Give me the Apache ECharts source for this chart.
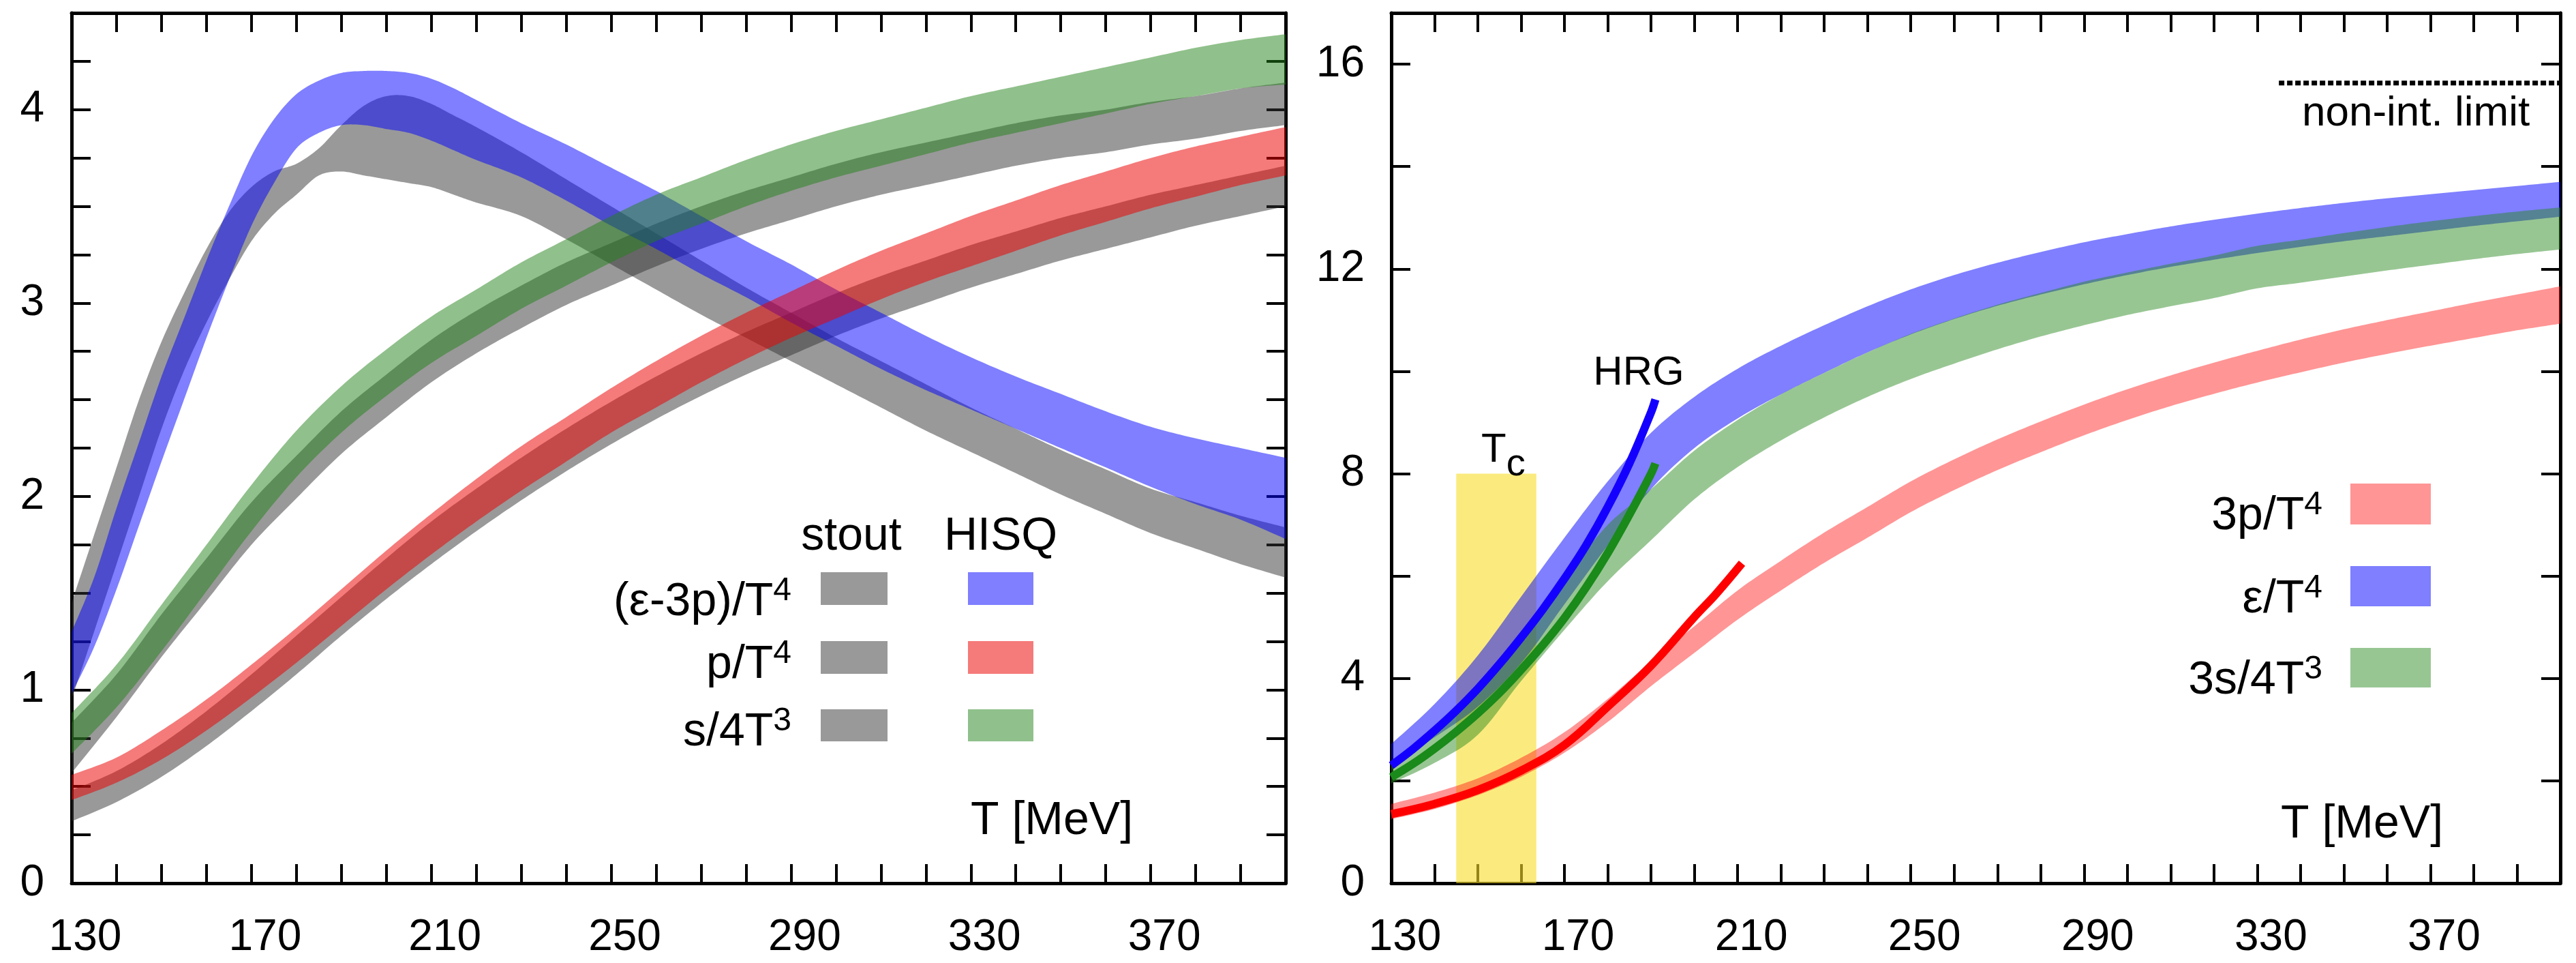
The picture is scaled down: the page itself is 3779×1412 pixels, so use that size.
<!DOCTYPE html>
<html><head><meta charset="utf-8">
<script src="https://cdn.jsdelivr.net/npm/echarts@6/dist/echarts.min.js"></script>
<style>html,body{margin:0;padding:0;background:#fff}#c{width:3779px;height:1412px}</style>
</head><body><div id="c"></div>
<script>
// ---------------- DATA ----------------
// Left panel: trace anomaly (epsilon-3p)/T^4
const T_TRACE = [130,135,140,145,150,155,160,165,170,175,180,185,190,195,200,205,210,215,220,230,240,250,260,270,280,290,300,310,320,330,340,350,360,370,380,390,400];
const HISQ_TRACE_LO = [0.98,1.22,1.52,1.85,2.18,2.50,2.82,3.12,3.40,3.62,3.80,3.88,3.92,3.92,3.90,3.88,3.84,3.79,3.74,3.65,3.53,3.40,3.28,3.15,3.03,2.90,2.78,2.66,2.55,2.45,2.35,2.25,2.15,2.05,1.96,1.88,1.78];
const HISQ_TRACE_HI = [1.30,1.58,1.94,2.28,2.62,2.92,3.22,3.50,3.76,3.95,4.08,4.15,4.19,4.20,4.20,4.19,4.16,4.11,4.05,3.93,3.82,3.70,3.58,3.45,3.32,3.20,3.07,2.95,2.83,2.72,2.62,2.53,2.44,2.36,2.30,2.25,2.20];
const STOUT_TRACE_LO = [0.95,1.30,1.65,2.00,2.35,2.65,2.90,3.12,3.32,3.46,3.56,3.66,3.68,3.66,3.64,3.62,3.60,3.56,3.52,3.45,3.33,3.20,3.07,2.94,2.82,2.70,2.58,2.46,2.34,2.23,2.12,2.01,1.91,1.81,1.73,1.65,1.58];
const STOUT_TRACE_HI = [1.45,1.80,2.15,2.50,2.80,3.05,3.28,3.47,3.60,3.68,3.72,3.80,3.92,4.02,4.07,4.07,4.03,3.97,3.91,3.78,3.64,3.50,3.36,3.22,3.08,2.95,2.82,2.70,2.58,2.46,2.35,2.24,2.14,2.04,1.97,1.90,1.84];
// Left panel: p/T^4 and s/4T^3
const T_10 = [130,140,150,160,170,180,190,200,210,220,230,240,250,260,270,280,290,300,310,320,330,340,350,360,370,380,390,400];
const HISQ_P_LO = [0.43,0.52,0.64,0.79,0.96,1.14,1.33,1.52,1.70,1.87,2.03,2.18,2.33,2.46,2.59,2.71,2.82,2.92,3.02,3.11,3.19,3.27,3.35,3.42,3.49,3.55,3.61,3.66];
const HISQ_P_HI = [0.56,0.65,0.79,0.95,1.13,1.32,1.52,1.72,1.91,2.09,2.26,2.41,2.56,2.70,2.83,2.95,3.06,3.17,3.27,3.36,3.45,3.53,3.61,3.68,3.75,3.81,3.86,3.91];
const STOUT_P_LO = [0.32,0.42,0.55,0.71,0.89,1.08,1.28,1.47,1.65,1.82,1.98,2.13,2.27,2.40,2.52,2.63,2.73,2.83,2.92,3.00,3.08,3.15,3.22,3.28,3.34,3.40,3.45,3.50];
const STOUT_P_HI = [0.48,0.58,0.72,0.89,1.08,1.28,1.48,1.68,1.87,2.04,2.20,2.35,2.49,2.62,2.74,2.85,2.95,3.05,3.14,3.22,3.30,3.37,3.44,3.50,3.56,3.61,3.66,3.71];
const HISQ_S_LO = [0.67,0.91,1.20,1.51,1.82,2.10,2.33,2.52,2.69,2.83,2.97,3.09,3.21,3.32,3.41,3.50,3.58,3.65,3.71,3.77,3.83,3.88,3.93,3.98,4.03,4.07,4.11,4.13];
const HISQ_S_HI = [0.88,1.13,1.44,1.75,2.06,2.34,2.57,2.76,2.93,3.07,3.21,3.33,3.45,3.56,3.65,3.74,3.82,3.89,3.95,4.01,4.07,4.12,4.17,4.22,4.27,4.32,4.36,4.39];
const STOUT_S_LO = [0.57,0.86,1.17,1.46,1.75,1.99,2.22,2.41,2.59,2.74,2.87,2.99,3.09,3.19,3.28,3.36,3.43,3.50,3.56,3.61,3.66,3.71,3.75,3.78,3.82,3.85,3.89,3.92];
const STOUT_S_HI = [0.83,1.08,1.39,1.68,1.97,2.21,2.44,2.63,2.81,2.96,3.09,3.21,3.31,3.41,3.50,3.58,3.65,3.72,3.78,3.83,3.88,3.93,3.97,4.00,4.04,4.07,4.11,4.14];

// Right panel: HISQ 3p/T^4, e/T^4, 3s/4T^3 (on T_10)
const P3_LO = [1.25,1.45,1.72,2.08,2.55,3.15,3.85,4.50,5.15,5.72,6.26,6.75,7.25,7.68,8.07,8.42,8.75,9.05,9.32,9.56,9.78,9.98,10.17,10.34,10.50,10.65,10.80,10.93];
const P3_HI = [1.55,1.77,2.05,2.45,2.95,3.60,4.33,5.02,5.72,6.30,6.85,7.35,7.85,8.28,8.67,9.02,9.35,9.65,9.92,10.17,10.40,10.62,10.82,11.00,11.17,11.34,11.50,11.66];
const E_LO = [2.30,2.85,3.45,4.30,5.45,6.60,7.70,8.50,9.08,9.55,9.97,10.37,10.72,11.02,11.28,11.50,11.70,11.88,12.04,12.18,12.31,12.43,12.54,12.64,12.74,12.84,12.93,13.02];
const E_HI = [2.72,3.50,4.45,5.60,6.75,7.85,8.80,9.50,10.05,10.50,10.90,11.27,11.60,11.88,12.12,12.33,12.52,12.68,12.83,12.96,13.08,13.19,13.29,13.38,13.46,13.54,13.62,13.70];
const S34_LO = [1.95,2.35,2.90,3.95,4.95,5.90,6.70,7.50,8.13,8.65,9.10,9.50,9.85,10.15,10.43,10.68,10.90,11.10,11.27,11.43,11.62,11.73,11.85,11.97,12.08,12.19,12.29,12.38];
const S34_HI = [2.35,2.95,3.80,4.85,5.95,7.00,7.70,8.45,9.05,9.55,9.97,10.37,10.73,11.03,11.30,11.53,11.75,11.93,12.10,12.26,12.45,12.57,12.70,12.82,12.93,13.03,13.12,13.20];

// HRG curves
const T_HRG_E = [130,135,140,145,150,155,160,165,170,175,180,185,190,191];
const HRG_E   = [2.30,2.62,2.98,3.37,3.80,4.28,4.80,5.35,5.95,6.60,7.35,8.20,9.20,9.45];
const T_HRG_S = [130,135,140,145,150,155,160,165,170,175,180,185,190,191];
const HRG_S   = [2.07,2.33,2.63,2.96,3.32,3.72,4.17,4.65,5.18,5.78,6.45,7.20,8.00,8.20];
const T_HRG_P = [130,140,150,160,170,180,190,200,205,211];
const HRG_P   = [1.35,1.55,1.82,2.20,2.70,3.45,4.25,5.20,5.65,6.25];

// Tc band and non-interacting limit
const TC_RANGE = [145, 163.5];
const TC_TOP = 8;
const SB_T = [335, 400];
const SB_LIMIT = 15.63;

// Axis tick labels
const X_LABELS = [130,170,210,250,290,330,370];
const Y_LABELS_L = [0,1,2,3,4];
const Y_LABELS_R = [0,4,8,12,16];

// ---------------- CHART ----------------
const FONT = 'Liberation Sans, Arial, Helvetica, sans-serif';
const GRAY = 'rgba(51,51,51,0.5)';
const BLUE = 'rgba(0,0,255,0.5)';
const RED_L = 'rgba(235,0,0,0.52)';
const GREEN = 'rgba(34,130,24,0.5)';
const RED_R = 'rgba(255,20,20,0.45)';
const GREEN_R = 'rgba(40,135,30,0.48)';

const chart = echarts.init(document.getElementById('c'), null, {renderer: 'canvas'});

const AXLINE = {show: true, onZero: false, lineStyle: {color: '#000', width: 5}};
const AXTICK = {show: true, inside: true, length: 28, lineStyle: {color: '#000', width: 4}};

function xAxes(grid) {
  const base = {type: 'value', gridIndex: grid, min: 130, max: 400, interval: 10,
    axisLine: AXLINE, axisTick: AXTICK, splitLine: {show: false}};
  return [
    Object.assign({}, base, {position: 'bottom', axisLabel: {show: true, color: '#000', fontSize: 64, fontFamily: FONT,
      margin: 48, padding: [0, 0, 0, 40], lineHeight: 64,
      formatter: v => X_LABELS.includes(v) ? String(v) : ''}}),
    Object.assign({}, base, {position: 'top', axisLabel: {show: false}})
  ];
}
function yAxes(grid, max, interval, labels, margin) {
  const base = {type: 'value', gridIndex: grid, min: 0, max: max, interval: interval,
    axisLine: AXLINE, axisTick: AXTICK, splitLine: {show: false}};
  return [
    Object.assign({}, base, {position: 'left', axisLabel: {show: true, color: '#000', fontSize: 64, fontFamily: FONT,
      margin: margin, padding: [28, 0, 0, 0], formatter: v => labels.includes(v) ? String(v) : ''}}),
    Object.assign({}, base, {position: 'right', axisLabel: {show: false}})
  ];
}

// Catmull-Rom smoothing of pixel points (render-time only)
function spline(pts, n) {
  const out = [];
  for (let i = 0; i < pts.length - 1; i++) {
    const p0 = pts[Math.max(i - 1, 0)], p1 = pts[i], p2 = pts[i + 1], p3 = pts[Math.min(i + 2, pts.length - 1)];
    for (let k = 0; k < n; k++) {
      const t = k / n, t2 = t * t, t3 = t2 * t;
      out.push([0, 1].map(d => 0.5 * ((2 * p1[d]) + (-p0[d] + p2[d]) * t +
        (2 * p0[d] - 5 * p1[d] + 4 * p2[d] - p3[d]) * t2 + (-p0[d] + 3 * p1[d] - 3 * p2[d] + p3[d]) * t3)));
    }
  }
  out.push(pts[pts.length - 1]);
  return out;
}

function band(name, T, lo, hi, color, ai, z) {
  const rows = T.map((t, i) => [t, lo[i], hi[i]]);
  return {
    type: 'custom', name: name, xAxisIndex: ai, yAxisIndex: ai, z: z, silent: true, clip: true,
    data: rows,
    renderItem: (params, api) => {
      if (params.dataIndex !== 0) return null;
      const up = [], dn = [];
      for (let i = 0; i < rows.length; i++) {
        up.push(api.coord([api.value(0, i), api.value(2, i)]));
        dn.push(api.coord([api.value(0, i), api.value(1, i)]));
      }
      const pts = spline(up, 12).concat(spline(dn, 12).reverse());
      return {type: 'polygon', shape: {points: pts}, style: {fill: color}};
    }
  };
}
function curve(name, T, v, color, ai, z) {
  return {type: 'line', name: name, xAxisIndex: ai, yAxisIndex: ai,
    data: T.map((t, i) => [t, v[i]]), symbol: 'none', smooth: 0.4,
    lineStyle: {color: color, width: 12, cap: 'butt'}, z: z, silent: true};
}

const series = [
  band('stout_trace', T_TRACE, STOUT_TRACE_LO, STOUT_TRACE_HI, GRAY, 0, 2),
  band('stout_p', T_10, STOUT_P_LO, STOUT_P_HI, GRAY, 0, 2),
  band('stout_s', T_10, STOUT_S_LO, STOUT_S_HI, GRAY, 0, 2),
  band('hisq_trace', T_TRACE, HISQ_TRACE_LO, HISQ_TRACE_HI, BLUE, 0, 3),
  band('hisq_p', T_10, HISQ_P_LO, HISQ_P_HI, RED_L, 0, 3),
  band('hisq_s', T_10, HISQ_S_LO, HISQ_S_HI, GREEN, 0, 3),
  {
    type: 'custom', name: 'Tc', xAxisIndex: 2, yAxisIndex: 2, z: 1, silent: true,
    data: [[TC_RANGE[0], TC_RANGE[1], TC_TOP]],
    renderItem: (params, api) => {
      const p0 = api.coord([api.value(0), api.value(2)]);
      const p1 = api.coord([api.value(1), 0]);
      return {type: 'rect', shape: {x: p0[0], y: p0[1], width: p1[0] - p0[0], height: p1[1] - p0[1]},
        style: {fill: 'rgba(248,222,40,0.6)'}};
    }
  },
  band('e', T_10, E_LO, E_HI, BLUE, 2, 3),
  band('s34', T_10, S34_LO, S34_HI, GREEN_R, 2, 3),
  band('p3', T_10, P3_LO, P3_HI, RED_R, 2, 3),
  curve('HRG_e', T_HRG_E, HRG_E, '#1400ff', 2, 5),
  curve('HRG_s', T_HRG_S, HRG_S, '#1a8a1a', 2, 5),
  curve('HRG_p', T_HRG_P, HRG_P, '#ff0000', 2, 5),
  {type: 'line', name: 'SB', xAxisIndex: 2, yAxisIndex: 2, data: SB_T.map(t => [t, SB_LIMIT]),
    symbol: 'none', lineStyle: {color: '#000', width: 7, type: [8, 4]}, z: 5, silent: true}
];

const RICH = {
  m: {fontSize: 68, fontFamily: FONT, color: '#000', lineHeight: 80, verticalAlign: 'middle'},
  s: {fontSize: 48, fontFamily: FONT, color: '#000', lineHeight: 46, verticalAlign: 'top'},
  t: {fontSize: 60, fontFamily: FONT, color: '#000', lineHeight: 50, verticalAlign: 'top'},
  c: {fontSize: 56, fontFamily: FONT, color: '#000', lineHeight: 80, verticalAlign: 'bottom'}
};
function txt(x, y, text, align, size) {
  return {type: 'text', x: x, y: y, z: 100, silent: true,
    style: {text: text, rich: RICH, font: (size || 68) + 'px ' + FONT, fill: '#000',
      align: align, textAlign: align, verticalAlign: 'middle', textVerticalAlign: 'middle'}};
}
function box(x, y, w, h, color) {
  return {type: 'rect', z: 100, silent: true, shape: {x: x, y: y, width: w, height: h}, style: {fill: color}};
}

const graphic = [
  // left legend
  txt(1249, 787, 'stout', 'center'),
  txt(1468, 787, 'HISQ', 'center'),
  txt(1161, 883, '{m|(ε-3p)/T}{s|4}', 'right'),
  txt(1161, 975, '{m|p/T}{s|4}', 'right'),
  txt(1161, 1074, '{m|s/4T}{s|3}', 'right'),
  box(1204, 839, 98, 48, GRAY), box(1420, 839, 96, 48, BLUE),
  box(1204, 940, 98, 48, GRAY), box(1420, 940, 96, 48, RED_L),
  box(1204, 1040, 98, 47, GRAY), box(1420, 1040, 96, 47, GREEN),
  txt(1424, 1204, 'T [MeV]', 'left'),
  // right legend
  txt(3407, 757, '{m|3p/T}{s|4}', 'right'),
  txt(3407, 879, '{m|ε/T}{s|4}', 'right'),
  txt(3407, 998, '{m|3s/4T}{s|3}', 'right'),
  box(3448, 709, 118, 60, RED_R), box(3448, 830, 118, 59, BLUE), box(3448, 950, 118, 58, GREEN_R),
  txt(3346, 1209, 'T [MeV]', 'left'),
  txt(2404, 547, 'HRG', 'center', 60),
  txt(2173, 670, '{t|T}{c|c}', 'left'),
  txt(3377, 167, 'non-int. limit', 'left', 62)
];

chart.setOption({
  animation: false,
  backgroundColor: '#fff',
  grid: [
    {left: 105, top: 19, width: 1781, height: 1276, show: false},
    {left: 2041, top: 19, width: 1736, height: 1276, show: false}
  ],
  xAxis: [].concat(xAxes(0), xAxes(1)),
  yAxis: [].concat(yAxes(0, 4.5, 0.25, Y_LABELS_L, 40), yAxes(1, 17, 2, Y_LABELS_R, 39)),
  series: series,
  graphic: graphic
});
</script></body></html>
